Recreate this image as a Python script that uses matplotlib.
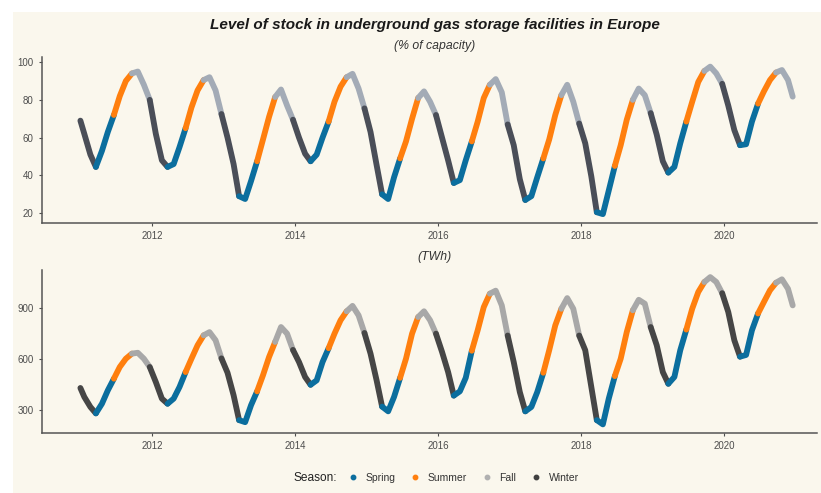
import pandas as pd
import matplotlib
matplotlib.use('Agg')
import matplotlib.pyplot as plt
import matplotlib.dates as mdates
from matplotlib.lines import Line2D
from matplotlib.patches import Rectangle

plt.rcParams['font.family'] = ['Liberation Sans', 'DejaVu Sans']

# points on the 21st of each month (season changes fall on these), plus first/last day
dates = ([pd.Timestamp('2011-01-01')]
         + list(pd.date_range('2011-01-01', periods=119, freq='MS') + pd.Timedelta(days=20))
         + [pd.Timestamp('2020-12-15')])

# % of capacity, one row per year (Jan21 .. Dec21)
pct = [69,
       62, 51, 44.5, 53, 63, 72, 82, 90, 94, 95, 88, 80,
       62, 48, 44.5, 46, 55, 65, 76, 85, 90.5, 92, 85, 72.5,
       60, 46, 29, 27.5, 37, 47.5, 59, 71, 81.5, 85.5, 77, 69.5,
       60, 51.5, 47.5, 51, 60, 68.5, 79, 87, 92, 93.8, 86, 75.5,
       63, 45.5, 30, 27.5, 39, 49, 58, 70, 81, 84.5, 79, 72,
       60, 48, 36, 37.5, 48, 58, 68.5, 81, 88, 91, 84, 67,
       56, 38, 27, 29, 39, 49, 59, 72, 82.5, 88, 79, 67.5,
       57, 39.5, 20.5, 19.5, 32, 45, 56, 69.5, 80, 86, 82.5, 73,
       61.5, 47.5, 41.5, 44.5, 57, 68.5, 79, 89.5, 95.3, 97.6, 94, 88.5,
       77, 64, 56, 56.5, 68.5, 78, 84.5, 90.5, 94.5, 95.8, 90.5,
       81.7]

# TWh
twh = [430,
       377, 318, 280, 337, 416, 485, 554, 603, 633, 638, 603, 554,
       465, 367, 337, 367, 436, 524, 603, 682, 741, 760, 712, 605,
       520, 387, 240, 228, 328, 410, 505, 613, 702, 790, 751, 655,
       583, 495, 449, 475, 583, 665, 751, 830, 883, 915, 859, 755,
       633, 475, 320, 292, 377, 490, 603, 751, 849, 883, 830, 751,
       643, 524, 385, 410, 490, 650, 771, 908, 987, 1005, 918, 740,
       583, 406, 292, 318, 406, 520, 653, 800, 898, 961, 898, 740,
       653, 436, 240, 215, 367, 500, 603, 761, 889, 951, 928, 790,
       682, 524, 455, 495, 653, 775, 898, 997, 1056, 1085, 1056, 990,
       879, 712, 615, 625, 771, 870, 938, 1007, 1052, 1072, 1016,
       918]

seasons = ['Spring', 'Summer', 'Fall', 'Winter']
month_season = {12: 'Winter', 1: 'Winter', 2: 'Winter', 3: 'Spring', 4: 'Spring', 5: 'Spring',
                6: 'Summer', 7: 'Summer', 8: 'Summer', 9: 'Fall', 10: 'Fall', 11: 'Fall'}

top_colors = {'Spring': '#0b6e9e', 'Summer': '#ff7f0e', 'Fall': '#a3abb6', 'Winter': '#4a4e58'}
bot_colors = {'Spring': '#0b6e9e', 'Summer': '#ff7f0e', 'Fall': '#a8a8a8', 'Winter': '#464646'}
legend_colors = {'Spring': '#0b6e9e', 'Summer': '#ff7f0e', 'Fall': '#b0b0b0', 'Winter': '#404040'}

bg = '#faf7ed'
axis_col = '#555555'


def draw_series(ax, vals, colors):
    seg_season = [month_season[d.month] for d in dates[:-1]]
    start = 0
    for i in range(1, len(seg_season) + 1):
        if i == len(seg_season) or seg_season[i] != seg_season[start]:
            ax.plot(dates[start:i + 1], vals[start:i + 1], color=colors[seg_season[start]],
                    lw=4.2, solid_capstyle='round', solid_joinstyle='round')
            start = i


def style_axis(ax, ylim, yticks):
    ax.set_facecolor(bg)
    for s in ['top', 'right']:
        ax.spines[s].set_visible(False)
    for s in ['left', 'bottom']:
        ax.spines[s].set_color(axis_col)
        ax.spines[s].set_linewidth(1.1)
    ax.set_xlim(pd.Timestamp('2010-06-19'), pd.Timestamp('2021-04-18'))
    ax.set_ylim(*ylim)
    ax.set_yticks(yticks)
    ax.set_xticks([pd.Timestamp(f'{y}-01-01') for y in range(2012, 2021, 2)])
    ax.xaxis.set_major_formatter(mdates.DateFormatter('%Y'))
    ax.tick_params(colors='#4d4d4d', labelsize=7, length=2.5, width=0.8)


fig = plt.figure(figsize=(8.21, 4.93), dpi=100)
fig.patch.set_facecolor('white')
fig.add_artist(Rectangle((13 / 821, 0), 1, 1 - 12 / 493, transform=fig.transFigure,
                         facecolor=bg, edgecolor='none', zorder=-10))

ax1 = fig.add_axes([42 / 821, 1 - 223 / 493, 775 / 821, 166 / 493])
ax2 = fig.add_axes([42 / 821, 1 - 433 / 493, 775 / 821, 163 / 493])

draw_series(ax1, pct, top_colors)
draw_series(ax2, twh, bot_colors)
style_axis(ax1, (14.8, 102.7), [20, 40, 60, 80, 100])
style_axis(ax2, (164, 1127), [300, 600, 900])

cx = 435 / 821
fig.text(cx, 1 - 25 / 493, 'Level of stock in underground gas storage facilities in Europe',
         ha='center', va='center', fontsize=11, fontweight='bold', fontstyle='italic', color='#1a1a1a')
fig.text(cx, 1 - 46 / 493, '(% of capacity)', ha='center', va='center', fontsize=8.8,
         fontstyle='italic', color='#333333')
fig.text(cx, 1 - 257 / 493, '(TWh)', ha='center', va='center', fontsize=8.8,
         fontstyle='italic', color='#333333')

handles = [Line2D([], [], ls='none', marker='o', ms=3.2, color=legend_colors[s]) for s in seasons]
fig.text(337 / 821, 1 - 478 / 493, 'Season:', ha='right', va='center', fontsize=8.6, color='#222222')
fig.legend(handles, seasons, loc='center left', bbox_to_anchor=(349 / 821, 1 - 478 / 493),
           ncol=4, frameon=False, fontsize=7.5, handlelength=0.8, handletextpad=0.8,
           columnspacing=1.5, labelcolor='#333333', borderpad=0, borderaxespad=0)

fig.savefig('out.png', dpi=100, facecolor=fig.get_facecolor())
